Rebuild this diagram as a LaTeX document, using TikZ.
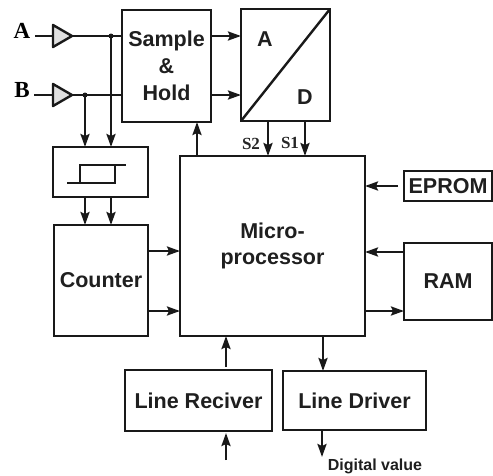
\documentclass[tikz,border=0pt]{standalone}
\usepackage{fontspec}
\setmainfont{Liberation Sans}
\newfontfamily\serifbody{Liberation Serif}
\usetikzlibrary{arrows.meta,shapes.geometric}
\tikzset{
  x=1pt,y=-1pt,
  blk/.style={draw=black!90,line width=2.4pt,fill=white,inner sep=0pt,outer sep=0pt,align=center,
     font=\fontsize{21.5}{26}\selectfont\bfseries,text=black!88},
  ampl/.style={draw=black!90,line width=2.4pt,line join=round,fill=black!12,isosceles triangle,isosceles triangle apex angle=60,
     isosceles triangle stretches,minimum width=22pt,minimum height=19pt,inner sep=0pt,outer sep=0pt,anchor=west},
  wire/.style={line width=2.4pt,draw=black!90},
  arr/.style={wire,-{Stealth[length=13pt,width=9pt,inset=2pt]}},
  sig/.style={font=\serifbody\fontsize{23}{26}\selectfont\bfseries},
  sel/.style={font=\serifbody\fontsize{17}{20}\selectfont\bfseries,text=black!85},
  dot/.style={circle,fill=black!90,inner sep=0pt,minimum size=5pt},
}
\begin{document}
\begin{tikzpicture}
\useasboundingbox (0,0) rectangle (493,475);
\fill[white] (0,0) rectangle (493,475);
% boxes
\node[blk,minimum width=89pt,minimum height=112pt] (sh) at (166.5,66) {Sample\\[1pt]\&\\[1pt]Hold};
\node[blk,minimum width=89pt,minimum height=112pt] (ad) at (285.5,65) {};
\node[blk,minimum width=95pt,minimum height=50pt] (hy) at (100.5,172) {};
\node[blk,minimum width=94pt,minimum height=111pt] (co) at (101,280.5) {Counter};
\node[blk,minimum width=185pt,minimum height=180pt] (mi) at (272.5,246) {Micro-\\processor};
\node[blk,minimum width=88pt,minimum height=30pt] (ep) at (448,186) {EPROM};
\node[blk,minimum width=88pt,minimum height=77pt] (ram) at (448,281.5) {RAM};
\node[blk,minimum width=147pt,minimum height=61pt] (lr) at (198.5,400.5) {Line Reciver};
\node[blk,minimum width=143pt,minimum height=59pt] (ld) at (354.5,400.5) {Line Driver};
% A/D converter
\draw[wire] (ad.south west) -- (ad.north east);
\node[font=\fontsize{21.5}{26}\selectfont\bfseries,text=black!88] (lblA) at (265,39) {A};
\node[font=\fontsize{21.5}{26}\selectfont\bfseries,text=black!88] (lblD) at (305,97) {D};
% hysteresis symbol
\coordinate (h1) at (67,183);
\coordinate (h2) at (115,183);
\coordinate (h3) at (115,165);
\coordinate (h4) at (80,165);
\coordinate (h5) at (80,183);
\coordinate (h6) at (126,165);
\draw[wire] (h1) -- (h2) -- (h3);
\draw[wire] (h5) -- (h4) -- (h6);
% inputs
\node[sig] (inA) at (22,31) {A};
\node[sig] (inB) at (22,90) {B};
\coordinate (sA) at (35,36);
\coordinate (sB) at (34,95);
\node[ampl] (tA) at (53,36) {};
\node[ampl] (tB) at (53,95) {};
\draw[wire] (sA) -- (tA.west);
\draw[wire] (sB) -- (tB.west);
\draw[wire] (tA.apex) -- (sh.west |- tA.apex);
\draw[wire] (tB.apex) -- (sh.west |- tB.apex);
\coordinate (ja) at (111,36);
\coordinate (jb) at (85,95);
\node[dot] (da) at (ja) {};
\node[dot] (db) at (jb) {};
\draw[arr] (ja) -- (ja |- hy.north);
\draw[arr] (jb) -- (jb |- hy.north);
\draw[arr] (ja |- hy.south) -- (ja |- co.north);
\draw[arr] (jb |- hy.south) -- (jb |- co.north);
% sample & hold
\draw[arr] (sh.east |- ja) -- (ad.west |- ja);
\draw[arr] (sh.east |- jb) -- (ad.west |- jb);
\coordinate (xsh) at (197,0);
\draw[arr] (xsh |- mi.north) -- (xsh |- sh.south);
% A/D to microprocessor
\coordinate (xs2) at (268,0);
\coordinate (xs1) at (305,0);
\draw[arr] (xs2 |- ad.south) -- (xs2 |- mi.north);
\draw[arr] (xs1 |- ad.south) -- (xs1 |- mi.north);
\node[sel] (s2) at (251,144) {S2};
\node[sel] (s1) at (290,143) {S1};
% counter to microprocessor
\coordinate (yc1) at (0,251);
\coordinate (yc2) at (0,311);
\draw[arr] (co.east |- yc1) -- (mi.west |- yc1);
\draw[arr] (co.east |- yc2) -- (mi.west |- yc2);
% memories
\coordinate (epl) at (398,186);
\draw[arr] (epl) -- (mi.east |- epl);
\coordinate (yr1) at (0,252);
\coordinate (yr2) at (0,311);
\draw[arr] (ram.west |- yr1) -- (mi.east |- yr1);
\draw[arr] (mi.east |- yr2) -- (ram.west |- yr2);
% line receiver / driver
\coordinate (xlr) at (226,0);
\coordinate (xld) at (323,0);
\coordinate (lrt) at (226,367);
\coordinate (lrb) at (226,460);
\coordinate (lrc) at (226,433);
\coordinate (ldb) at (322,457);
\draw[arr] (lrt) -- (xlr |- mi.south);
\draw[arr] (lrb) -- (lrc);
\draw[arr] (xld |- mi.south) -- (xld |- ld.north);
\draw[arr] (ldb |- ld.south) -- (ldb);
\node[font=\fontsize{16}{20}\selectfont\bfseries,text=black!88] (dv) at (375,466) {Digital value};
\end{tikzpicture}
\end{document}
